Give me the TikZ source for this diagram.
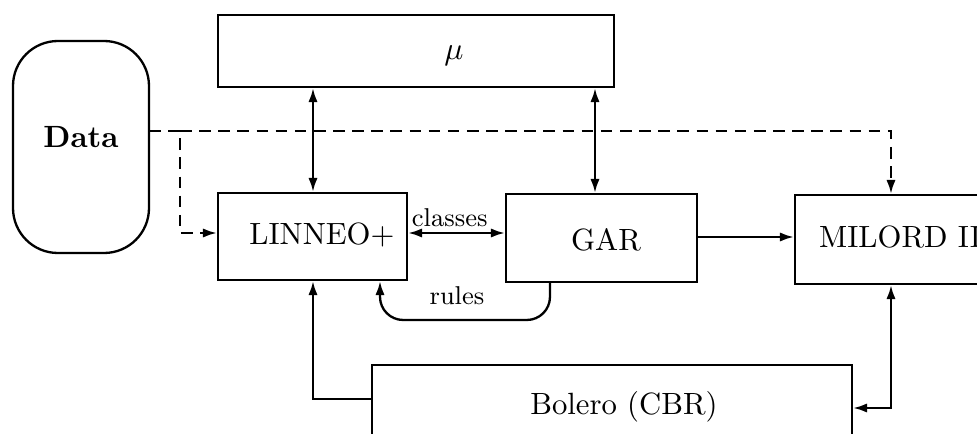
\documentclass[tikz,border=0pt]{standalone}
\usetikzlibrary{arrows.meta,fit}
\begin{document}
\begin{tikzpicture}[x=0.345pt,y=-0.345pt,
  >={Latex[length=4.8pt,width=3.2pt]},
  box/.style={draw, line width=0.8pt, inner sep=0pt},
  lbl/.style={font=\fontsize{10.6}{12}\selectfont, inner sep=0pt, anchor=base},
  smalllbl/.style={font=\fontsize{8.9}{10}\selectfont, inner sep=0pt, anchor=base},
  conn/.style={line width=0.8pt},
  dashconn/.style={line width=0.8pt, dash pattern=on 4pt off 2.6pt}]
\useasboundingbox (0,0) rectangle (977,434);
\begin{scope}
\clip (0,0) rectangle (977,434);
% boxes
\node[box, fit={(218,15)(614,87)}] (mu) {};
\node[lbl] (mulabel) at (454,60) {$\mu$};
\node[box, fit={(218,193)(407,280)}] (linneo) {};
\node[lbl] (linneolabel) at (322,245) {LINNEO+};
\node[box, fit={(506,194)(697,282)}] (gar) {};
\node[lbl] (garlabel) at (606,251) {GAR};
\node[box, fit={(795,195)(995,284)}] (milord) {};
\node[lbl] (milordlabel) at (900,248) {MILORD II};
\node[box, fit={(372,365)(852,450)}] (bolero) {};
\node[lbl] (bolerolabel) at (624,415) {Bolero (CBR)};
% Data stadium
\node[draw, line width=0.8pt, inner sep=0pt, rounded corners=15.5pt, fit={(13,41)(149,253)}] (data) {};
\node[lbl, font=\fontsize{10.6}{12}\selectfont\bfseries] (datalabel) at (81,148) {Data};
% coordinates
\coordinate (dstart) at (149,131);
\coordinate (dsplit) at (180,131);
% connectors
\draw[conn,<->] (mu.south -| 313,0) -- (linneo.north -| 313,0);
\draw[conn,<->] (mu.south -| 595,0) -- (gar.north -| 595,0);
\draw[conn,<->] (linneo.east |- 0,233) -- (gar.west |- 0,233)
  node[smalllbl, pos=0.43, yshift=2.1pt] (classes) {classes};
\draw[conn,->] (gar.east |- 0,237) -- (milord.west |- 0,237);
\draw[conn,->, rounded corners=8pt] (gar.south -| 550,0) -- (550,320) -- (380,320) -- (linneo.south -| 380,0);
\node[smalllbl] (rules) at (457,305) {rules};
\draw[dashconn,->] (dstart) -- (dsplit) -- (180,233) -- (linneo.west |- 0,233);
\draw[dashconn,->] (dsplit) -- (891,131) -- (milord.north -| 891,0);
\draw[conn,->] (bolero.west |- 0,399) -- (313,399) -- (linneo.south -| 313,0);
\draw[conn,<->] (bolero.east |- 0,408) -- (891,408) -- (milord.south -| 891,0);
\end{scope}
\end{tikzpicture}
\end{document}
